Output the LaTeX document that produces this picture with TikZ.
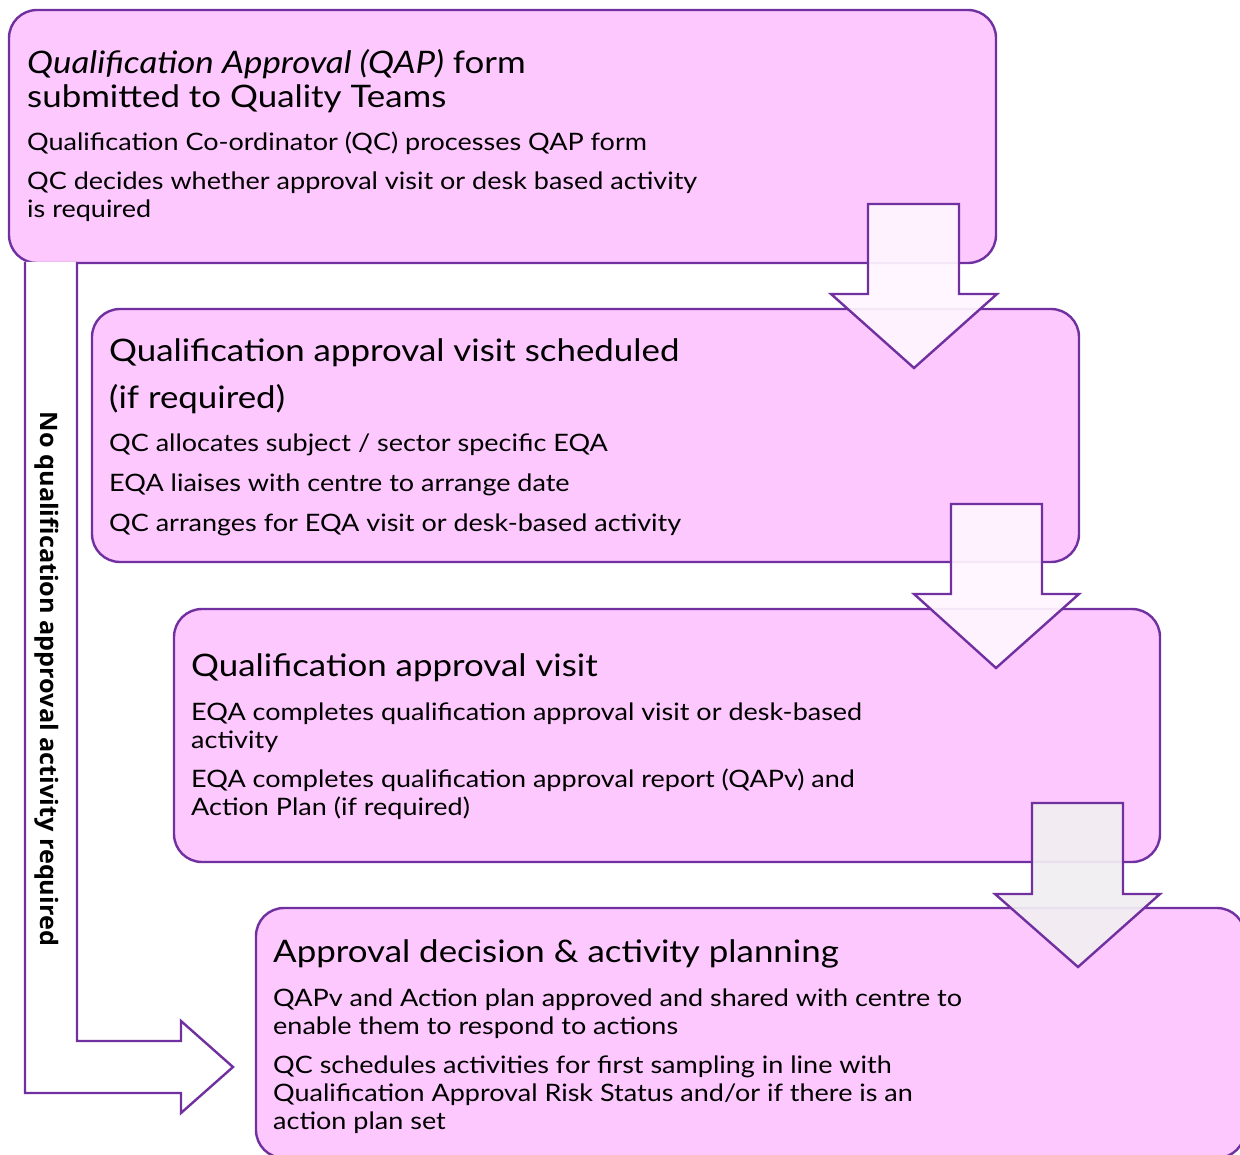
\documentclass[tikz,border=0pt]{standalone}
\usepackage{fontspec}
\setmainfont{Lato}[FakeStretch=1.125]
\newfontfamily\sidefont{Open Sans}[FakeStretch=1.05]
\definecolor{boxfill}{RGB}{253,200,253}
\definecolor{boxline}{RGB}{112,48,160}
\definecolor{arrfill}{RGB}{255,246,255}
\definecolor{arrfillg}{RGB}{242,238,242}
\begin{document}
\begin{tikzpicture}[x=1pt,y=-1pt,
  stagebox/.style={draw=boxline,line width=2.4pt,fill=boxfill,rounded corners=28pt},
  blockarrow/.style={draw=boxline,line width=2.4pt,fill=arrfill,fill opacity=0.93,line join=miter},
  titletext/.style={anchor=base west,inner sep=0pt,font=\fontsize{31}{31}\selectfont},
  bodytext/.style={anchor=base west,inner sep=0pt,font=\fontsize{24}{24}\selectfont},
  sidetext/.style={inner sep=0pt,font=\sidefont\bfseries\fontsize{24}{24}\selectfont,rotate=-90}]
\useasboundingbox (0,0) rectangle (1240,1155);
\fill[white] (0,0) rectangle (1240,1155);
% boxes
\draw[stagebox] (9,10) rectangle (996,263);
\draw[stagebox] (92,309) rectangle (1079,562);
\draw[blockarrow] (868,204) -- (959,204) -- (959,294) -- (997,294) -- (914,368) -- (831,294) -- (868,294) -- cycle;
\draw[stagebox] (174,609) rectangle (1160,862);
\draw[blockarrow] (951,504) -- (1042,504) -- (1042,594) -- (1079,594) -- (996,668) -- (914,594) -- (951,594) -- cycle;
\draw[stagebox] (256,908) rectangle (1245,1158);
\draw[blockarrow,fill=arrfillg] (1032,803) -- (1123,803) -- (1123,894) -- (1160,894) -- (1078,967) -- (995,894) -- (1032,894) -- cycle;
% bent arrow
\draw[draw=boxline,line width=2.4pt,fill=white,line join=miter] (25,262) -- (25,1093) -- (181,1093) -- (181,1113) -- (233,1067) -- (181,1021) -- (181,1041) -- (77,1041) -- (77,262);
\node[sidetext] (side) at (47,679) {No qualification approval activity required};
% box 1 text
\node[titletext] (b1t1) at (27,74) {\itshape Qualification Approval (QAP)\upshape{} form};
\node[titletext] (b1t2) at (27,108) {submitted to Quality Teams};
\node[bodytext] (b1a) at (27,151) {Qualification Co-ordinator (QC) processes QAP form};
\node[bodytext] (b1b) at (27,190) {QC decides whether approval visit or desk based activity};
\node[bodytext] (b1c) at (27,218) {is required};
% box 2 text
\node[titletext] (b2t1) at (109,362) {Qualification approval visit scheduled};
\node[titletext] (b2t2) at (109,409) {(if required)};
\node[bodytext] (b2a) at (109,452) {QC allocates subject / sector specific EQA};
\node[bodytext] (b2b) at (109,491) {EQA liaises with centre to arrange date};
\node[bodytext] (b2c) at (109,531) {QC arranges for EQA visit or desk-based activity};
% box 3 text
\node[titletext] (b3t1) at (191,676) {Qualification approval visit};
\node[bodytext] (b3a) at (191,720) {EQA completes qualification approval visit or desk-based};
\node[bodytext] (b3b) at (191,748) {activity};
\node[bodytext] (b3c) at (191,787) {EQA completes qualification approval report (QAPv) and};
\node[bodytext] (b3d) at (191,815) {Action Plan (if required)};
% box 4 text
\node[titletext] (b4t1) at (273,962) {Approval decision \& activity planning};
\node[bodytext] (b4a) at (273,1006) {QAPv and Action plan approved and shared with centre to};
\node[bodytext] (b4b) at (273,1034) {enable them to respond to actions};
\node[bodytext] (b4c) at (273,1073) {QC schedules activities for first sampling in line with};
\node[bodytext] (b4d) at (273,1101) {Qualification Approval Risk Status and/or if there is an};
\node[bodytext] (b4e) at (273,1129) {action plan set};
\end{tikzpicture}
\end{document}
